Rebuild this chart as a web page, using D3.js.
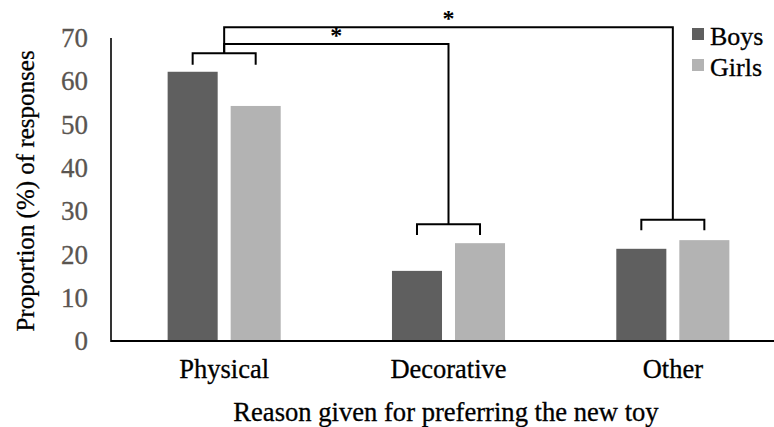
<!DOCTYPE html>
<html>
<head>
<meta charset="utf-8">
<script src="https://cdn.jsdelivr.net/npm/d3@7"></script>
<style>
  html, body { margin: 0; padding: 0; background: #fff; }
  svg { display: block; }
  text { font-family: "Liberation Serif", "Times New Roman", serif; }
</style>
</head>
<body>
<svg id="chart" width="774" height="427"></svg>
<script>
// ---- Data ----
const categories = ["Physical", "Decorative", "Other"];
const seriesNames = ["Boys", "Girls"];
const boys = [62.2, 16.2, 21.3];
const girls = [54.3, 22.6, 23.3];
const yTicks = [0, 10, 20, 30, 40, 50, 60, 70];
// significance bracket levels (in % units)
const groupBracketTop = [66.5, 27.0, 28.0];
const groupBracketLegBottom = [63.8, 24.5, 25.6];
const comparisons = [
  { from: "Physical", to: "Decorative", level: 68.6, label: "*" },
  { from: "Physical", to: "Other", level: 72.5, label: "*" }
];
const yTitle = "Proportion (%) of responses";
const xTitle = "Reason given for preferring the new toy";

const colors = { Boys: "#5f5f5f", Girls: "#b3b3b3" };

// ---- Chart ----
const svg = d3.select("#chart");
const W = 774, H = 427;
const axisX = 111, baseY = 341, topY = 38;

const y = d3.scaleLinear().domain([0, 70]).range([baseY, topY]);
const x0 = d3.scaleBand().domain(categories).range([112, 785])
  .paddingInner(0.496).paddingOuter(0.248);
const x1 = d3.scaleBand().domain(seriesNames).range([0, x0.bandwidth()])
  .paddingInner(0.206);

const table = categories.map((c, i) => ({ cat: c, values: [
  { s: "Boys", v: boys[i] }, { s: "Girls", v: girls[i] }
]}));

// bars
const g = svg.append("g");
g.selectAll("g.grp").data(table).join("g")
  .attr("class", "grp")
  .attr("transform", d => `translate(${x0(d.cat)},0)`)
  .selectAll("rect").data(d => d.values).join("rect")
  .attr("x", d => x1(d.s))
  .attr("width", x1.bandwidth())
  .attr("y", d => y(d.v))
  .attr("height", d => y(0) - y(d.v))
  .attr("fill", d => colors[d.s]);

// y axis
const yAxis = d3.axisLeft(y).tickValues(yTicks).tickSize(0).tickPadding(23);
const ya = svg.append("g").attr("transform", `translate(${axisX},0)`).call(yAxis);
ya.select(".domain").remove();
ya.selectAll("text")
  .attr("fill", "#5a5550")
  .attr("stroke", "#5a5550").attr("stroke-width", 0.3)
  .style("font-size", "27px")
  .style("font-family", "'Liberation Serif', serif");
svg.append("line").attr("x1", axisX).attr("x2", axisX).attr("y1", topY).attr("y2", baseY + 1)
  .attr("stroke", "#000").attr("stroke-width", 1.6);

// x axis
const xAxis = d3.axisBottom(x0).tickSize(0).tickPadding(18);
const xa = svg.append("g").attr("transform", `translate(0,${baseY})`).call(xAxis);
xa.select(".domain").remove();
xa.selectAll("text")
  .attr("fill", "#000")
  .attr("stroke", "#000").attr("stroke-width", 0.3)
  .style("font-size", "26.5px")
  .style("font-family", "'Liberation Serif', serif");
svg.append("line").attr("x1", axisX).attr("x2", W).attr("y1", baseY).attr("y2", baseY)
  .attr("stroke", "#000").attr("stroke-width", 2);

// titles
svg.append("text").attr("x", 446).attr("y", 421).attr("text-anchor", "middle")
  .attr("stroke", "#000").attr("stroke-width", 0.3)
  .style("font-size", "26.6px").attr("fill", "#000").text(xTitle);
svg.append("text").attr("transform", `translate(34,191) rotate(-90)`)
  .attr("stroke", "#000").attr("stroke-width", 0.3)
  .attr("text-anchor", "middle").style("font-size", "25px").attr("fill", "#000").text(yTitle);

// group brackets
const center = c => x0(c) + x0.bandwidth() / 2;
const boysC = c => x0(c) + x1("Boys") + x1.bandwidth() / 2;
const girlsC = c => x0(c) + x1("Girls") + x1.bandwidth() / 2;
const br = svg.append("g").attr("fill", "none").attr("stroke", "#000").attr("stroke-width", 2);
categories.forEach((c, i) => {
  const t = y(groupBracketTop[i]), b = y(groupBracketLegBottom[i]);
  br.append("path").attr("d",
    `M${boysC(c)},${b}V${t}H${girlsC(c)}V${b}`);
});
// comparison lines
comparisons.forEach(cmp => {
  const fi = categories.indexOf(cmp.from), ti = categories.indexOf(cmp.to);
  const ly = y(cmp.level);
  br.append("path").attr("d",
    `M${center(cmp.from)},${y(groupBracketTop[fi])}V${ly}H${center(cmp.to)}V${y(groupBracketTop[ti])}`);
  svg.append("text")
    .attr("x", (center(cmp.from) + center(cmp.to)) / 2)
    .attr("y", ly - 1)
    .attr("text-anchor", "middle")
    .style("font-size", "24px").style("font-weight", "bold")
    .attr("fill", "#000").text(cmp.label);
});

// legend
const lg = svg.append("g").attr("transform", "translate(692,28)");
seriesNames.forEach((s, i) => {
  lg.append("rect").attr("x", 0).attr("y", i * 31).attr("width", 12).attr("height", 12)
    .attr("fill", colors[s]);
  lg.append("text").attr("x", 18).attr("y", i * 31 + 17)
    .attr("stroke", "#000").attr("stroke-width", 0.3)
    .style("font-size", "26px").attr("fill", "#000").text(s);
});
</script>
</body>
</html>
